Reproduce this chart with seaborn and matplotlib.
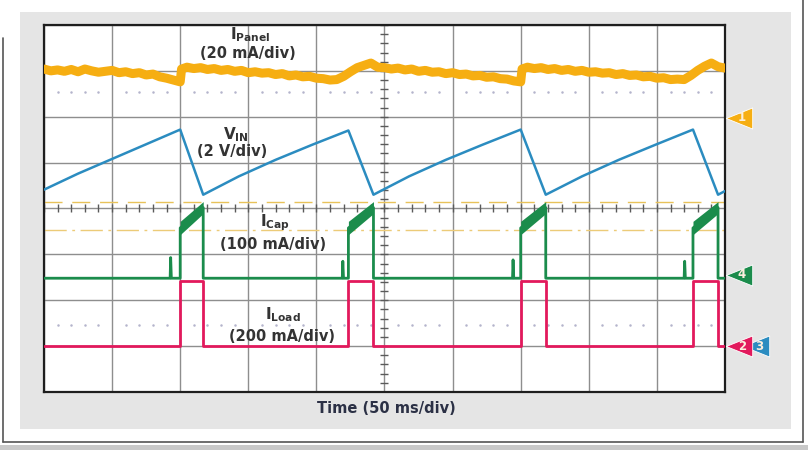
import numpy as np
import pandas as pd
import matplotlib
matplotlib.use("Agg")
import matplotlib.pyplot as plt
from matplotlib.patches import Rectangle
from matplotlib.lines import Line2D
from matplotlib.path import Path
import matplotlib.transforms as mtransforms
import seaborn as sns

# ---------------- data (time in ms, 50 ms/div; vertical in screen divisions) -------------
panel_t = [0, 5, 10, 15, 20, 25, 30, 35, 40, 45, 50, 55, 60, 65, 70, 75, 80, 85, 90, 95, 100,
           101, 105, 110, 115, 120, 125, 130, 135, 140, 145, 150, 155, 160, 165, 170, 175, 180,
           185, 190, 195, 200, 205, 210, 215, 220, 225, 230, 235, 240, 245, 250, 255, 260, 265,
           270, 275, 280, 285, 290, 295, 300, 305, 310, 315, 320, 325, 330, 335, 340, 345, 350,
           351, 355, 360, 365, 370, 375, 380, 385, 390, 395, 400, 405, 410, 415, 420, 425, 430,
           435, 440, 445, 450, 455, 460, 465, 470, 475, 480, 485, 490, 495, 500]
panel_v = [3.04, 3.00, 3.02, 2.99, 3.03, 2.98, 3.04, 3.00, 2.97, 2.99, 3.01, 2.96, 2.98, 2.94,
           2.96, 2.91, 2.93, 2.87, 2.84, 2.80, 2.76,
           3.04, 3.08, 3.05, 3.07, 3.03, 3.05, 3.01, 3.03, 2.99, 3.01, 2.96, 2.98, 2.95, 2.96,
           2.92, 2.94, 2.89, 2.91, 2.87, 2.88, 2.84, 2.83, 2.80, 2.81, 2.88, 2.98, 3.07, 3.12,
           3.17, 3.08, 3.07, 3.04, 3.06, 3.02, 3.04, 2.99, 3.01, 2.97, 2.98, 2.94, 2.96, 2.92,
           2.93, 2.89, 2.90, 2.86, 2.87, 2.83, 2.82, 2.78, 2.76,
           3.04, 3.08, 3.05, 3.07, 3.03, 3.05, 3.01, 3.03, 2.99, 3.01, 2.97, 2.98, 2.95, 2.96,
           2.92, 2.94, 2.90, 2.91, 2.87, 2.88, 2.84, 2.85, 2.81, 2.82, 2.81, 2.90, 3.01, 3.10,
           3.17, 3.09, 3.06]

vin_t = [0, 25, 50, 75, 100, 116.9, 143, 170, 197, 223.5, 241.9, 268, 295, 322, 350,
         368.4, 395, 422, 449, 476.5, 494.9, 500]
vin_v = [0.41, 0.76, 1.08, 1.40, 1.72, 0.30, 0.70, 1.06, 1.39, 1.70, 0.30, 0.70, 1.06, 1.39,
         1.72, 0.30, 0.70, 1.06, 1.39, 1.72, 0.30, 0.38]

pulse_start = [100.0, 223.5, 350.0, 476.5]
pulse_end = [116.9, 241.9, 368.4, 494.9]
cap_spike_t = [92.6, 219.0, 344.0, 470.0]
cap_spike_v = [-1.07, -1.15, -1.12, -1.15]
cap_base = -1.52
cap_upper = [-0.28, 0.15]
cap_lower = [-0.57, -0.11]
load_low = -3.0
load_high = -1.59

ch_labels = ["1", "2", "3", "4"]
ch_levels = [1.98, -3.0, -3.0, -1.44]

ORANGE = "#f6ae12"
RED = "#e2195c"
BLUE = "#2b8cc0"
GREEN = "#1b8c4c"

# ---------------- build traces ----------------
g_t, g_v = [0.0], [cap_base]
r_t, r_v = [0.0], [load_low]
for s, sv, a, b in zip(cap_spike_t, cap_spike_v, pulse_start, pulse_end):
    g_t += [s, s + 0.4, s + 0.9, a, a, b, b]
    g_v += [cap_base, sv, cap_base, cap_base, (cap_upper[0] + cap_lower[0]) / 2,
            (cap_upper[1] + cap_lower[1]) / 2, cap_base]
    r_t += [a, a, b, b]
    r_v += [load_low, load_high, load_high, load_low]
g_t.append(500.0); g_v.append(cap_base)
r_t.append(500.0); r_v.append(load_low)

df_panel = pd.DataFrame({"t": panel_t, "v": panel_v})
df_vin = pd.DataFrame({"t": vin_t, "v": vin_v})
df_cap = pd.DataFrame({"t": g_t, "v": g_v})
df_load = pd.DataFrame({"t": r_t, "v": r_v})

# ---------------- figure ----------------
sns.set_style("white")
plt.rcParams["font.family"] = ["DejaVu Sans"]
fig = plt.figure(figsize=(8.08, 4.5), dpi=100)
fig.patch.set_facecolor("white")

# outer frame decorations
fig.add_artist(Rectangle((0.02475, 0.0467), 0.9545, 0.9266, transform=fig.transFigure,
                         facecolor="#e5e5e5", edgecolor="none", zorder=0))
fig.add_artist(Rectangle((0.0, 0.0), 1.0, 0.011, transform=fig.transFigure,
                         facecolor="#c9c9c9", edgecolor="none", zorder=0))
fig.add_artist(Line2D([0.0037, 0.0037], [0.9156, 0.0178], transform=fig.transFigure,
                      color="#555555", lw=1.2))
fig.add_artist(Line2D([0.9938, 0.9938], [1.0, 0.0178], transform=fig.transFigure,
                      color="#555555", lw=1.2))
fig.add_artist(Line2D([0.0037, 0.9938], [0.0178, 0.0178], transform=fig.transFigure,
                      color="#555555", lw=1.2))

ax = fig.add_axes([0.05446, 0.1289, 0.8428, 0.8156])
ax.set_facecolor("white")
ax.set_xlim(0, 500)
ax.set_ylim(-4, 4)
ax.set_xticks(np.arange(0, 501, 50))
ax.set_yticks(np.arange(-4, 5, 1))
ax.grid(True, color="#8e8e8e", lw=1.0, zorder=1)
ax.tick_params(length=0, labelbottom=False, labelleft=False)
for sp in ax.spines.values():
    sp.set_visible(True)
    sp.set_color("#1e1e1e")
    sp.set_linewidth(1.6)

# centre-line minor ticks
mt = np.arange(0, 501, 10)
ax.plot(mt, np.zeros_like(mt), ls="none", marker="|", ms=6, mew=1.0, color="#5a5a5a", zorder=2)
mv = np.arange(-4, 4.01, 0.2)
ax.plot(np.full_like(mv, 250.0), mv, ls="none", marker="_", ms=6, mew=1.0, color="#5a5a5a", zorder=2)

# dotted reference rows
dt = np.array([x for x in range(10, 500, 10) if x % 50])
for lvl in (2.53, -2.53):
    ax.plot(dt, np.full(dt.shape, lvl), ls="none", marker="o", ms=1.8, mew=0,
            color="#b4b4cc", zorder=2)

# trigger / level dashed lines
ax.axhline(0.15, color="#e8c25a", lw=1.0, dashes=(13, 7), zorder=2)
ax.axhline(-0.46, color="#eccb78", lw=1.0, dashes=(16, 4, 2, 4), zorder=2)

# traces
sns.lineplot(data=df_panel, x="t", y="v", ax=ax, color=ORANGE, lw=6.5, sort=False,
             estimator=None, zorder=4)
sns.lineplot(data=df_vin, x="t", y="v", ax=ax, color=BLUE, lw=1.8, sort=False,
             estimator=None, zorder=5)
sns.lineplot(data=df_cap, x="t", y="v", ax=ax, color=GREEN, lw=2.0, sort=False,
             estimator=None, zorder=5)
for a, b in zip(pulse_start, pulse_end):
    ax.fill_between([a, b], cap_lower, cap_upper, color=GREEN, lw=0, zorder=5)
sns.lineplot(data=df_load, x="t", y="v", ax=ax, color=RED, lw=2.0, sort=False,
             estimator=None, zorder=6)
ax.set_xlabel("")
ax.set_ylabel("")

# labels
lab_kw = dict(transform=ax.transAxes, ha="center", va="center", color="#333333",
              fontweight="bold", zorder=8)
ax.text(0.3025, 0.975, r"$\mathbf{I}_{\mathbf{Panel}}$", fontsize=11, **lab_kw)
ax.text(0.2996, 0.922, "(20 mA/div)", fontsize=10.5, **lab_kw)
ax.text(0.2819, 0.700, r"$\mathbf{V}_{\mathbf{IN}}$", fontsize=11, **lab_kw)
ax.text(0.2761, 0.654, "(2 V/div)", fontsize=10.5, **lab_kw)
ax.text(0.339, 0.460, r"$\mathbf{I}_{\mathbf{Cap}}$", fontsize=11, **lab_kw)
ax.text(0.336, 0.402, "(100 mA/div)", fontsize=10.5, **lab_kw)
ax.text(0.351, 0.210, r"$\mathbf{I}_{\mathbf{Load}}$", fontsize=11, **lab_kw)
ax.text(0.3495, 0.151, "(200 mA/div)", fontsize=10.5, **lab_kw)
fig.text(0.4777, 0.0933, "Time (50 ms/div)", ha="center", va="center", fontsize=10.5,
         fontweight="bold", color="#2b3045")

# channel markers on the right edge
tri = Path([(-1.0, 0.0), (1.0, -0.8), (1.0, 0.8), (-1.0, 0.0)],
           [Path.MOVETO, Path.LINETO, Path.LINETO, Path.CLOSEPOLY])
blend = mtransforms.blended_transform_factory(ax.transAxes, ax.transData)
ch_colors = {"1": ORANGE, "2": RED, "3": BLUE, "4": GREEN}
ch_x = {"1": 1.021, "2": 1.021, "3": 1.046, "4": 1.021}
order = ["3", "1", "4", "2"]
for k, ch in enumerate(order):
    i = ch_labels.index(ch)
    ax.plot([ch_x[ch]], [ch_levels[i]], marker=tri, ms=19, color=ch_colors[ch],
            mec="white", mew=0.6, transform=blend, clip_on=False, zorder=10 + k)
    ax.text(ch_x[ch] + 0.004, ch_levels[i], ch, transform=blend, ha="center", va="center",
            fontsize=8.5, fontweight="bold", color="#fbeedd", zorder=10 + k, clip_on=False)

fig.savefig("out.png", dpi=100)
